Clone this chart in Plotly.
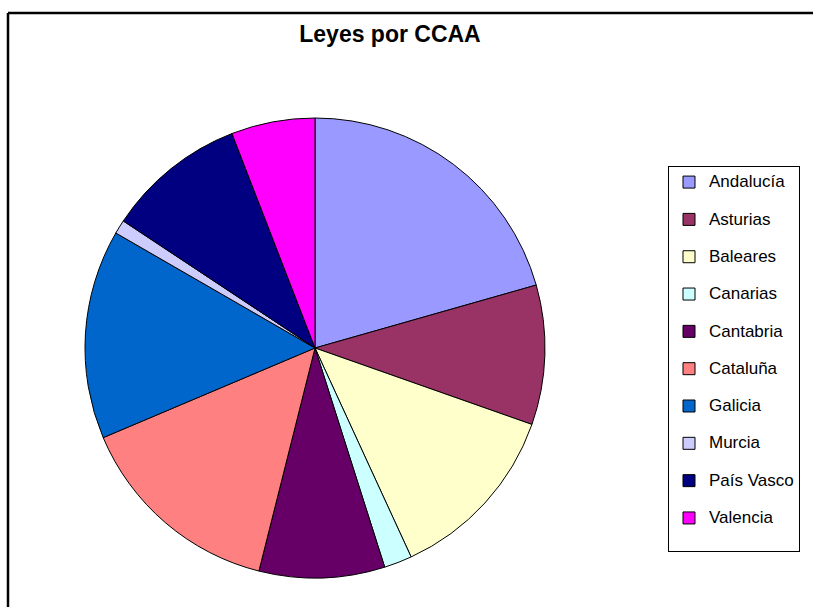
import plotly.graph_objects as go

# Data
regions = ["Andalucía", "Asturias", "Baleares", "Canarias", "Cantabria",
           "Cataluña", "Galicia", "Murcia", "País Vasco", "Valencia"]
laws = [21, 10, 13, 2, 9, 15, 15, 1, 10, 6]
colors = ["#9999FF", "#993366", "#FFFFCC", "#CCFFFF", "#660066",
          "#FF8080", "#0066CC", "#CCCCFF", "#000080", "#FF00FF"]
title_text = "Leyes por CCAA"

W, H = 813, 607

legend_labels = ["<span style='font-size:17px'>%s</span><br>&nbsp;" % r for r in regions]

fig = go.Figure(go.Pie(
    labels=legend_labels,
    values=laws,
    sort=False,
    direction="clockwise",
    rotation=0,
    textinfo="none",
    hoverinfo="label+value+percent",
    marker=dict(colors=colors, line=dict(color="#000000", width=1)),
    domain=dict(x=[85 / W, 545 / W], y=[1 - 578 / H, 1 - 118 / H]),
))

border = dict(color="#000000", width=2.5)
fig.update_layout(
    width=W, height=H,
    margin=dict(l=0, r=0, t=0, b=0),
    paper_bgcolor="white",
    font=dict(family="Liberation Sans, Arial, sans-serif", color="#000000"),
    title=dict(text="<b>%s</b>" % title_text, x=390 / W, xanchor="center",
               y=1 - 34 / H, yanchor="middle",
               font=dict(size=23, family="Liberation Sans, Arial, sans-serif", color="#000")),
    legend=dict(x=668 / W, xanchor="left", y=1 - 166 / H, yanchor="top",
                bgcolor="white", bordercolor="#000000", borderwidth=1,
                font=dict(size=13.2, family="Liberation Sans, Arial, sans-serif", color="#000"),
                valign="top", itemclick=False),
    shapes=[
        dict(type="line", xref="paper", yref="paper",
             x0=8 / W, x1=1.0, y0=1 - 13 / H, y1=1 - 13 / H, line=border, layer="below"),
        dict(type="line", xref="paper", yref="paper",
             x0=8 / W, x1=8 / W, y0=0.0, y1=1 - 13 / H, line=border, layer="below"),
    ],
)

fig.write_html("out.html", config={"displayModeBar": False},
               post_script="document.body.style.margin='0px';document.body.style.overflow='hidden';")
